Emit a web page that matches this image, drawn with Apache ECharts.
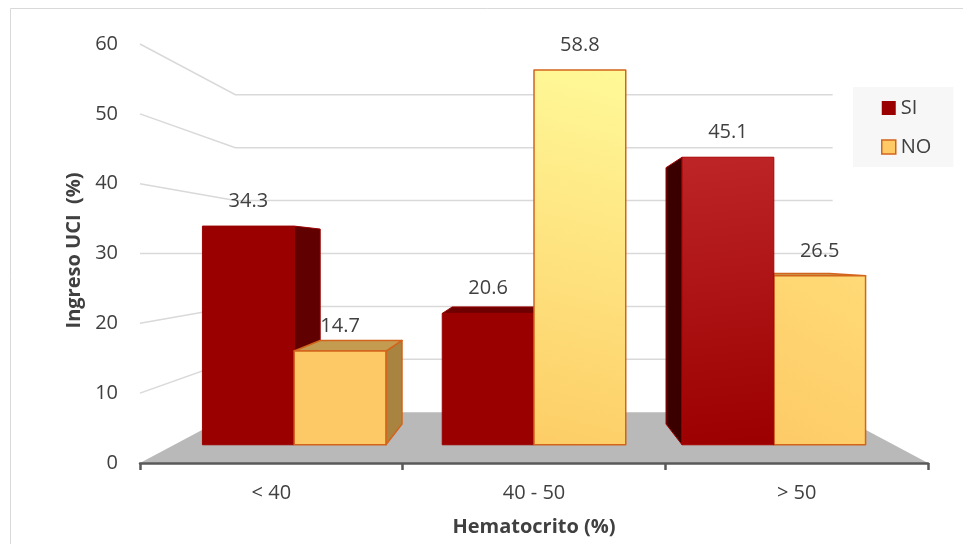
<!DOCTYPE html>
<html>
<head>
<meta charset="utf-8">
<script src="https://cdn.jsdelivr.net/npm/echarts@6/dist/echarts.min.js"></script>
<style>
  html, body { margin: 0; padding: 0; background: #ffffff; }
  #chart { width: 963px; height: 544px; }
</style>
</head>
<body>
<div id="chart"></div>
<script>
// Ingreso a UCI según hematocrito
const categories = ['< 40', '40 - 50', '> 50'];
const seriesNames = ['SI', 'NO'];
const siValues = [34.3, 20.6, 45.1];
const noValues = [14.7, 58.8, 26.5];
const yTicks = [0, 10, 20, 30, 40, 50, 60];

const FONT = '"Open Sans", "Noto Sans", sans-serif';
const TEXT = '#404040';

// Perspective: scale factors towards the vanishing point (grid centre)
const S_FRONT = 0.913;   // bar front faces
const S_BACK = 0.814;    // bar back faces
const S_WALL = 0.758;    // back wall
const BAR_RATIO = 0.3826; // one bar's width as a share of the category band

const LG = echarts.graphic.LinearGradient;

// face styles per series and category
const styles = {
  SI: {
    front: [
      '#9a0000',
      '#9a0000',
      new LG(0, 0, 0.3, 1, [{ offset: 0, color: '#bd2527' }, { offset: 1, color: '#9c0000' }])
    ],
    side: '#600000', sideLeft: '#3a0000', top: '#6e0000',
    stroke: ['#9a0000', '#9a0000', '#a80000'], lineWidth: 1
  },
  NO: {
    front: [
      '#fdc966',
      new LG(1, 0, 0, 1, [{ offset: 0, color: '#fff998' }, { offset: 1, color: '#fdcd66' }]),
      new LG(1, 0, 0, 1, [{ offset: 0, color: '#ffda76' }, { offset: 1, color: '#fdcb67' }])
    ],
    side: '#a88440', sideLeft: '#a88440', top: '#c39c52',
    stroke: ['#d2641c', '#d2641c', '#d2641c'], lineWidth: 1.5
  }
};

function vanish(params) {
  const c = params.coordSys;
  return [c.x + c.width / 2, c.y + c.height / 2];
}
function proj(p, s, vp) {
  return [vp[0] + (p[0] - vp[0]) * s, vp[1] + (p[1] - vp[1]) * s];
}

function renderBar(params, api) {
  const name = seriesNames[params.seriesIndex];
  const st = styles[name];
  const cat = api.value(0);
  const v = api.value(1);
  const vp = vanish(params);
  const base = api.coord([cat, 0]);
  const top = api.coord([cat, v]);
  const band = api.size([1, 0])[0];
  const w = band * BAR_RATIO;
  const x0 = name === 'SI' ? base[0] - w : base[0];
  const x1 = x0 + w;
  const yT = top[1], yB = base[1];

  const F = (x, y) => proj([x, y], S_FRONT, vp);
  const B = (x, y) => proj([x, y], S_BACK, vp);

  const ftl = F(x0, yT), ftr = F(x1, yT), fbr = F(x1, yB), fbl = F(x0, yB);
  const btl = B(x0, yT), btr = B(x1, yT), bbr = B(x1, yB), bbl = B(x0, yB);

  // bars nearer the centre are painted last
  const centre = (ftl[0] + ftr[0]) / 2;
  const zBase = 1000 - Math.round(Math.abs(centre - vp[0])) * 4;
  const stroke = st.stroke[cat];
  const lw = st.lineWidth;
  const children = [];

  if (ftr[0] < vp[0] - 0.5) {
    children.push({
      type: 'polygon', z2: zBase,
      shape: { points: [ftr, btr, bbr, fbr] },
      style: { fill: st.side, stroke: stroke, lineWidth: lw, lineJoin: 'round' }
    });
  }
  if (ftl[0] > vp[0] + 0.5) {
    children.push({
      type: 'polygon', z2: zBase,
      shape: { points: [ftl, btl, bbl, fbl] },
      style: { fill: st.sideLeft, stroke: stroke, lineWidth: lw, lineJoin: 'round' }
    });
  }
  if (ftl[1] > vp[1]) {
    children.push({
      type: 'polygon', z2: zBase + 1,
      shape: { points: [ftl, ftr, btr, btl] },
      style: { fill: st.top, stroke: stroke, lineWidth: lw, lineJoin: 'round' }
    });
  }
  children.push({
    type: 'polygon', z2: zBase + 2,
    shape: { points: [ftl, ftr, fbr, fbl] },
    style: { fill: st.front[cat], stroke: stroke, lineWidth: lw, lineJoin: 'round' }
  });
  children.push({
    type: 'text', z2: 5000,
    style: {
      text: String(v),
      x: (ftl[0] + ftr[0]) / 2,
      y: ftl[1] - 25,
      align: 'center', verticalAlign: 'middle',
      fill: TEXT,
      font: '20px ' + FONT
    }
  });
  return { type: 'group', children: children };
}

// gridlines: slanted along the left wall, then flat across the back wall
function renderGridLine(params, api) {
  const c = params.coordSys;
  const vp = vanish(params);
  const y = api.coord([0, api.value(0)])[1];
  const p0 = [c.x, y];
  const p1 = proj([c.x, y], S_WALL, vp);
  const p2 = proj([c.x + c.width, y], S_WALL, vp);
  return {
    type: 'polyline',
    shape: { points: [p0, p1, p2] },
    style: { stroke: '#d9d9d9', lineWidth: 1.5, fill: null }
  };
}

// grey floor between the front axis and the back wall
function renderFloor(params, api) {
  const c = params.coordSys;
  const vp = vanish(params);
  const y = api.coord([0, 0])[1];
  const fl = [c.x, y], fr = [c.x + c.width, y];
  return {
    type: 'polygon',
    shape: { points: [fl, fr, proj(fr, S_WALL, vp), proj(fl, S_WALL, vp)] },
    style: { fill: '#b9b9b9' }
  };
}

const chart = echarts.init(document.getElementById('chart'));
chart.setOption({
  animation: false,
  backgroundColor: '#ffffff',
  textStyle: { fontFamily: FONT },
  graphic: [{
    type: 'rect', x: 10.5, y: 8.5, silent: true,
    shape: { width: 1000, height: 1000 },
    style: { fill: 'none', stroke: '#d9d9d9', lineWidth: 1 }
  }],
  grid: { left: 140, right: 35, top: 44, bottom: 81 },
  legend: {
    orient: 'vertical',
    left: 853, top: 87,
    padding: [11, 22, 10, 28],
    backgroundColor: '#f7f7f7',
    itemWidth: 14, itemHeight: 14, itemGap: 19,
    textStyle: { fontSize: 20, color: TEXT, fontFamily: FONT },
    data: [
      { name: 'SI', icon: 'rect', itemStyle: { color: '#9a0000', borderWidth: 0 } },
      { name: 'NO', icon: 'rect', itemStyle: { color: '#fdca66', borderColor: '#d2641c', borderWidth: 1.5 } }
    ]
  },
  xAxis: {
    type: 'category',
    data: categories,
    z: 10,
    name: 'Hematocrito (%)',
    nameLocation: 'middle',
    nameGap: 54,
    nameTextStyle: { fontSize: 20, fontWeight: 'bold', color: TEXT, fontFamily: FONT },
    axisLine: { lineStyle: { color: '#595959', width: 2.5 } },
    axisTick: { show: true, length: 7, lineStyle: { color: '#595959', width: 2.5 } },
    axisLabel: { fontSize: 20, color: TEXT, margin: 20, fontFamily: FONT },
    splitLine: { show: false }
  },
  yAxis: {
    type: 'value',
    min: 0, max: 60, interval: 10,
    name: 'Ingreso UCI  (%)',
    nameLocation: 'middle',
    nameGap: 56,
    nameRotate: 90,
    nameTextStyle: { fontSize: 20, fontWeight: 'bold', color: TEXT, fontFamily: FONT, padding: [0, 0, 0, 6] },
    axisLine: { show: false },
    axisTick: { show: false },
    axisLabel: { fontSize: 20, color: TEXT, margin: 22, fontFamily: FONT },
    splitLine: { show: false }
  },
  series: [
    {
      name: 'SI', type: 'custom', z: 3,
      itemStyle: { color: '#9a0000' },
      renderItem: renderBar,
      data: siValues.map((v, i) => [i, v])
    },
    {
      name: 'NO', type: 'custom', z: 3,
      itemStyle: { color: '#fdca66', borderColor: '#d2641c', borderWidth: 1.5 },
      renderItem: renderBar,
      data: noValues.map((v, i) => [i, v])
    },
    {
      name: 'gridlines', type: 'custom', z: 1, silent: true,
      renderItem: renderGridLine,
      data: yTicks.filter(t => t > 0).map(t => [t])
    },
    {
      name: 'floor', type: 'custom', z: 2, silent: true,
      renderItem: renderFloor,
      data: [[0]]
    }
  ]
});
</script>
</body>
</html>
